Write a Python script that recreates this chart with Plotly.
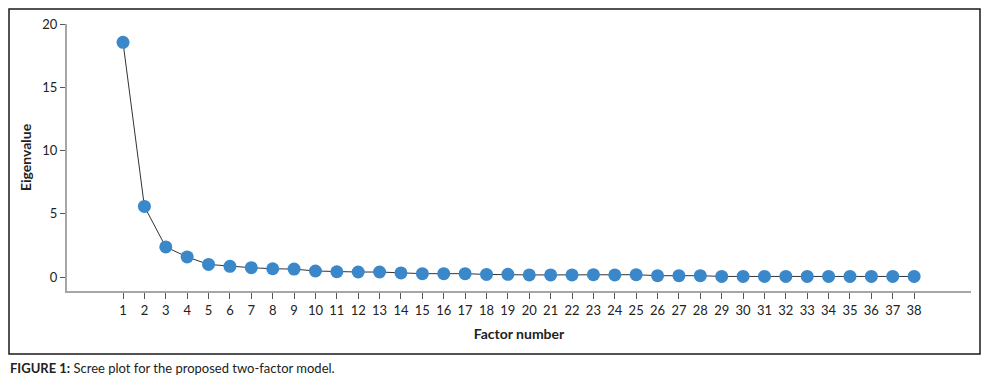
import plotly.graph_objects as go

factors = list(range(1, 39))
eigenvalues = [18.55, 5.58, 2.38, 1.59, 1.00, 0.85, 0.74, 0.66, 0.63, 0.48,
               0.42, 0.40, 0.40, 0.33, 0.27, 0.27, 0.27, 0.21, 0.22, 0.17,
               0.17, 0.17, 0.19, 0.17, 0.19, 0.11, 0.11, 0.11, 0.05, 0.05,
               0.05, 0.05, 0.05, 0.05, 0.05, 0.05, 0.05, 0.05]
y_ticks = [0, 5, 10, 15, 20]

font_family = "Lato, 'Open Sans', sans-serif"

# page body has an 8px margin; figure coordinates = reference - 8
W, H = 986, 377
L, T, R, B = 59, 16, 23, 94
PW, PH = W - L - R, H - T - B

def px_x(x):
    return (x - L) / PW

def px_y(y):
    return (H - B - y) / PH

fig = go.Figure()
fig.add_trace(go.Scatter(
    x=factors, y=eigenvalues, mode="lines+markers",
    line=dict(color="#333333", width=1),
    marker=dict(color="#3a87c9", size=13),
    showlegend=False, hoverinfo="x+y",
))

fig.update_layout(
    width=W, height=H,
    margin=dict(l=L, r=R, t=T, b=B, autoexpand=False),
    plot_bgcolor="white", paper_bgcolor="white",
    font=dict(family=font_family, size=13, color="#222222"),
    xaxis=dict(
        range=[-1.62, 40.66], tickmode="array", tickvals=factors,
        ticktext=[str(f) for f in factors], automargin=False,
        showgrid=False, zeroline=False,
        showline=True, linecolor="#a6a6a6", linewidth=2,
        ticks="outside", ticklen=6, tickcolor="#555555", tickwidth=1,
        tickfont=dict(size=13),
        title=dict(text="<b>Factor number</b>", font=dict(size=14), standoff=13),
    ),
    yaxis=dict(
        range=[-1.1, 20], tickmode="array", tickvals=y_ticks, automargin=False,
        showgrid=False, zeroline=False,
        showline=True, linecolor="#a6a6a6", linewidth=2,
        ticks="outside", ticklen=5, tickcolor="#555555", tickwidth=1,
        tickfont=dict(size=13),
        title=dict(text="<b>Eigenvalue</b>", font=dict(size=14), standoff=7),
    ),
    shapes=[dict(type="rect", xref="paper", yref="paper",
                 x0=px_x(1), x1=px_x(972), y0=px_y(346), y1=px_y(1),
                 line=dict(color="#1a1a1a", width=1.5), layer="above")],
    annotations=[dict(
        text="<b>FIGURE 1:</b> Scree plot for the proposed two-factor model.",
        xref="paper", yref="paper", x=px_x(0), y=px_y(360),
        xanchor="left", yanchor="middle", showarrow=False,
        font=dict(size=13, color="#222222"),
    )],
)

fig.write_html("out.html")
